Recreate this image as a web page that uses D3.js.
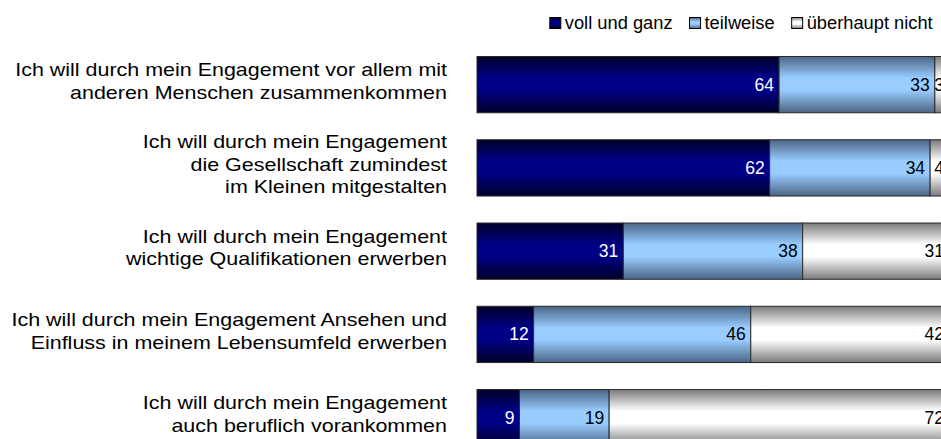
<!DOCTYPE html>
<html>
<head>
<meta charset="utf-8">
<script src="https://cdn.jsdelivr.net/npm/d3@7"></script>
<style>
  body { margin: 0; background: #fff; }
  svg { display: block; font-family: "Liberation Sans", Arial, sans-serif; }
</style>
</head>
<body>
<div class="canvas"></div>
<script>
// chart data
const categories = [
    ['Ich will durch mein Engagement vor allem mit', 'anderen Menschen zusammenkommen'],
    ['Ich will durch mein Engagement', 'die Gesellschaft zumindest', 'im Kleinen mitgestalten'],
    ['Ich will durch mein Engagement', 'wichtige Qualifikationen erwerben'],
    ['Ich will durch mein Engagement Ansehen und', 'Einfluss in meinem Lebensumfeld erwerben'],
    ['Ich will durch mein Engagement', 'auch beruflich vorankommen']
];
const seriesNames = ['voll und ganz', 'teilweise', 'überhaupt nicht'];
const vollUndGanz = [64, 62, 31, 12, 9];
const teilweise = [33, 34, 38, 46, 19];
const ueberhauptNicht = [3, 4, 31, 42, 72];

// dimensions
const svgDimensions = { width: 941, height: 439 };
const plot = { left: 477, right: 949, top: 43, bottom: 459.3 };

const svg = d3.select('.canvas')
    .append('svg')
        .attr('width', svgDimensions.width)
        .attr('height', svgDimensions.height);

// gradients: dark at the edges, light in the middle
const gradients = [
    { id: 'g0', edge: '#000028', mid: '#000086', text: '#fff' },
    { id: 'g1', edge: '#4a6585', mid: '#99ccff', text: '#000' },
    { id: 'g2', edge: '#7a7a7a', mid: '#ffffff', text: '#000' }
];
const defs = svg.append('defs');
gradients.forEach(g => {
    const lg = defs.append('linearGradient')
        .attr('id', g.id)
        .attr('x1', 0).attr('y1', 0).attr('x2', 0).attr('y2', 1);
    [[0, g.edge], [0.38, g.mid], [0.6, g.mid], [1, g.edge]].forEach(([o, c]) => {
        lg.append('stop').attr('offset', o).attr('stop-color', c);
    });
});

const x = d3.scaleLinear().domain([0, 100]).range([plot.left, plot.right]);
const y = d3.scaleBand()
    .domain(d3.range(categories.length))
    .range([plot.top, plot.bottom])
    .paddingInner(0.324)
    .paddingOuter(0.162);

const table = categories.map((c, i) => ({
    i, voll: vollUndGanz[i], teil: teilweise[i], nicht: ueberhauptNicht[i]
}));
const stacked = d3.stack().keys(['voll', 'teil', 'nicht'])(table);

const layers = svg.append('g')
    .selectAll('g')
    .data(stacked)
    .join('g')
        .attr('fill', (d, k) => `url(#${gradients[k].id})`);

layers.selectAll('rect')
    .data(d => d)
    .join('rect')
        .attr('x', d => x(d[0]))
        .attr('y', d => y(d.data.i))
        .attr('width', d => x(d[1]) - x(d[0]))
        .attr('height', y.bandwidth())
        .attr('stroke', '#2a2a2a')
        .attr('stroke-width', 1);

// value labels
layers.each(function(layer, k) {
    d3.select(this).selectAll('text')
        .data(layer)
        .join('text')
            .attr('x', d => x(d[1]) - 5)
            .attr('y', d => y(d.data.i) + y.bandwidth() / 2 + 6)
            .attr('text-anchor', 'end')
            .attr('font-size', 17.5)
            .attr('fill', gradients[k].text)
            .text(d => d[1] - d[0]);
});

// category labels, right aligned left of the bars
const labelGroups = svg.append('g')
    .selectAll('g')
    .data(categories)
    .join('g')
        .attr('transform', (d, i) => `translate(447,${y(i) + y.bandwidth() / 2 - 4}) scale(1.13,1)`);

labelGroups.selectAll('text')
    .data(d => d.map((t, j) => ({ t, j, n: d.length })))
    .join('text')
        .attr('text-anchor', 'end')
        .attr('font-size', 19)
        .attr('fill', '#000')
        .attr('y', d => (d.j - (d.n - 1) / 2) * 22.5 + 7)
        .text(d => d.t);

// legend, right aligned at the top
const legendGroup = svg.append('g').attr('transform', 'translate(0,17.5)');
const items = legendGroup.selectAll('g')
    .data(seriesNames)
    .join('g');
items.append('rect')
    .attr('width', 11).attr('height', 11)
    .attr('fill', (d, k) => `url(#${gradients[k].id})`)
    .attr('stroke', '#000').attr('stroke-width', 1);
items.append('text')
    .attr('x', 15).attr('y', 11)
    .attr('font-size', 18.3)
    .attr('fill', '#000')
    .text(d => d);

let cursor = 932.7;
const widths = [];
items.each(function() { widths.push(15 + this.querySelector('text').getComputedTextLength()); });
const xs = [];
for (let k = seriesNames.length - 1; k >= 0; k--) {
    cursor -= widths[k];
    xs[k] = cursor;
    cursor -= 17;
}
items.attr('transform', (d, k) => `translate(${xs[k]},0)`);
</script>
</body>
</html>
